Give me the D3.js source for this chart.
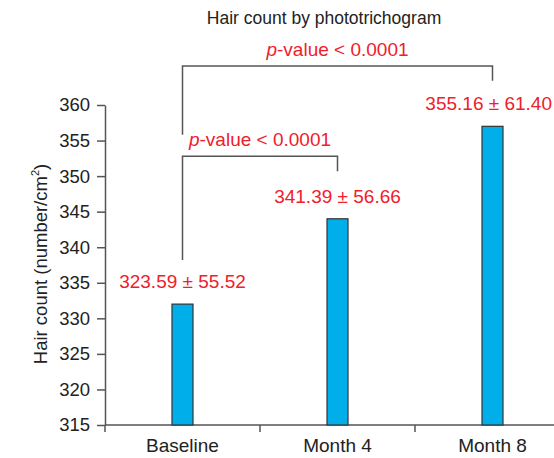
<!DOCTYPE html>
<html>
<head>
<meta charset="utf-8">
<script src="https://cdn.jsdelivr.net/npm/d3@7"></script>
<style>
  body { margin: 0; background: #fff; }
  svg { font-family: "Liberation Sans", Arial, sans-serif; }
</style>
</head>
<body>
<div id="chart-area"></div>
<script>
const categories = ["Baseline", "Month 4", "Month 8"];
const barValues = [332, 344, 357];
const valueLabels = ["323.59 ± 55.52", "341.39 ± 56.66", "355.16 ± 61.40"];
const yTicks = [315, 320, 325, 330, 335, 340, 345, 350, 355, 360];
const pLabel = "< 0.0001";

const canvas_dims = { width: 554, height: 458 };
const red = "#f0202a";

const svg = d3
  .select("#chart-area")
  .append("svg")
  .attr("width", canvas_dims.width)
  .attr("height", canvas_dims.height);

const x = d3.scaleBand().domain(categories).range([105, 570]).padding(0);
const y = d3.scaleLinear().domain([315, 360]).range([425, 105]);
const cx = c => x(c) + x.bandwidth() / 2;

// title
svg.append("text")
  .attr("x", 324)
  .attr("y", 24)
  .attr("text-anchor", "middle")
  .attr("font-size", "17.5px")
  .attr("fill", "#222")
  .text("Hair count by phototrichogram");

// y axis
const yAxis = svg.append("g")
  .attr("transform", "translate(105,0)")
  .call(d3.axisLeft(y).tickValues(yTicks).tickSize(8).tickSizeOuter(0));
yAxis.select(".domain").attr("stroke", "#555").attr("stroke-width", 1.5);
yAxis.selectAll(".tick line").attr("stroke", "#555").attr("stroke-width", 1.5);
yAxis.selectAll(".tick text")
  .attr("font-size", "18.5px")
  .attr("fill", "#222")
  .attr("font-family", "Liberation Sans, Arial, sans-serif")
  .attr("x", -15);

// y axis label
svg.append("text")
  .attr("transform", "rotate(-90)")
  .attr("x", -264)
  .attr("y", 47)
  .attr("text-anchor", "middle")
  .attr("font-size", "18.5px")
  .attr("fill", "#222")
  .call(t => {
    t.append("tspan").text("Hair count (number/cm");
    t.append("tspan").attr("font-size", "11px").attr("dy", -8).text("2");
    t.append("tspan").attr("dy", 8).text(")");
  });

// x axis
const xAxisG = svg.append("g").attr("transform", "translate(0,425)");
xAxisG.append("line")
  .attr("x1", 105).attr("x2", 570)
  .attr("stroke", "#555").attr("stroke-width", 1.5);
xAxisG.selectAll(".tick")
  .data(categories)
  .enter()
  .append("line")
  .attr("x1", d => x(d)).attr("x2", d => x(d))
  .attr("y1", 0).attr("y2", 7)
  .attr("stroke", "#555").attr("stroke-width", 1.5);
xAxisG.selectAll(".lbl")
  .data(categories)
  .enter()
  .append("text")
  .attr("x", d => cx(d))
  .attr("y", 27)
  .attr("text-anchor", "middle")
  .attr("font-size", "19px")
  .attr("fill", "#222")
  .text(d => d);

// bars
svg.selectAll(".bar")
  .data(categories)
  .enter()
  .append("rect")
  .attr("x", d => cx(d) - 10.5)
  .attr("y", (d, i) => y(barValues[i]))
  .attr("width", 21)
  .attr("height", (d, i) => y(315) - y(barValues[i]))
  .attr("fill", "#00aeea")
  .attr("stroke", "#333")
  .attr("stroke-width", 1.2);

// value labels, nudged left just enough to stay inside the canvas
svg.selectAll(".val")
  .data(categories)
  .enter()
  .append("text")
  .attr("x", d => cx(d))
  .attr("y", (d, i) => y(barValues[i]) - 16)
  .attr("text-anchor", "middle")
  .attr("font-size", "19px")
  .attr("fill", red)
  .text((d, i) => valueLabels[i])
  .each(function(d) {
    const half = this.getComputedTextLength() / 2;
    const over = cx(d) + half - (canvas_dims.width - 2);
    if (over > 0) d3.select(this).attr("x", cx(d) - over);
  });

// significance brackets (in data units)
const brackets = [
  { from: "Baseline", to: "Month 8", top: 365.5, leftEnd: 355.8, rightEnd: 363.4 },
  { from: "Baseline", to: "Month 4", top: 352.8, leftEnd: 338.2, rightEnd: 350.7 }
];

brackets.forEach(b => {
  const x1 = cx(b.from), x2 = cx(b.to);
  svg.append("path")
    .attr("d", `M${x1},${y(b.leftEnd)}V${y(b.top)}H${x2}V${y(b.rightEnd)}`)
    .attr("fill", "none")
    .attr("stroke", "#555")
    .attr("stroke-width", 1.5);
  svg.append("text")
    .attr("x", (x1 + x2) / 2)
    .attr("y", y(b.top) - 10)
    .attr("text-anchor", "middle")
    .attr("font-size", "19px")
    .attr("fill", red)
    .call(t => {
      t.append("tspan").attr("font-style", "italic").text("p");
      t.append("tspan").text("-value " + pLabel);
    });
});
</script>
</body>
</html>
